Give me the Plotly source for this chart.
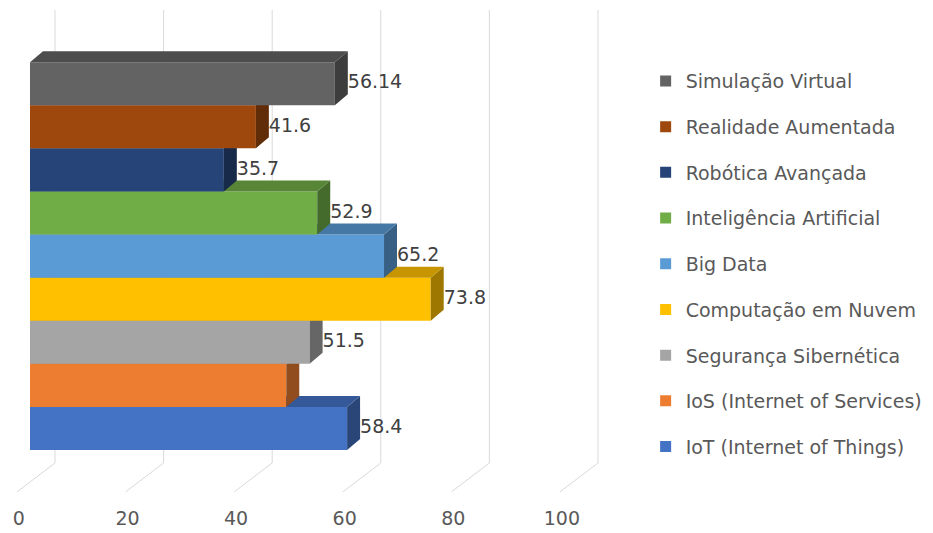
import plotly.graph_objects as go

# ---- data (bottom to top as drawn) ----
categories = [
    "IoT (Internet of Things)",
    "IoS (Internet of Services)",
    "Segurança Sibernética",
    "Computação em Nuvem",
    "Big Data",
    "Inteligência Artificial",
    "Robótica Avançada",
    "Realidade Aumentada",
    "Simulação Virtual",
]
values = [58.4, 47.2, 51.5, 73.8, 65.2, 52.9, 35.7, 41.6, 56.14]
label_texts = ["58.4", "", "51.5", "73.8", "65.2", "52.9", "35.7", "41.6", "56.14"]
colors = ["#4472C4", "#ED7D31", "#A5A5A5", "#FFC000", "#5B9BD5",
          "#70AD47", "#264478", "#9E480E", "#636363"]
tick_values = [0, 20, 40, 60, 80, 100]
tick_labels = ["0", "20", "40", "60", "80", "100"]

# ---- 3D-look geometry (in axis units) ----
DX = 2.39      # depth offset along value axis
DY = 0.255     # depth offset along category axis
FLOOR_BACK_X = 4.6
FLOOR_FRONT_X = -2.39
WALL_TOP = 9.71
FLOOR_BACK_Y = -0.80
FLOOR_FRONT_Y = -1.47
TICK_SHIFT = 2.05


def shade(hex_color, f):
    h = hex_color.lstrip("#")
    r, g, b = (int(h[i:i + 2], 16) for i in (0, 2, 4))
    return "#%02x%02x%02x" % (int(r * f), int(g * f), int(b * f))


fig = go.Figure()

# gridlines (back wall + floor)
for t in tick_values:
    fig.add_trace(go.Scatter(
        x=[FLOOR_BACK_X + t, FLOOR_BACK_X + t, FLOOR_FRONT_X + t],
        y=[WALL_TOP, FLOOR_BACK_Y, FLOOR_FRONT_Y],
        mode="lines", line=dict(color="#d9d9d9", width=1),
        hoverinfo="skip", showlegend=False))

# bars, drawn bottom to top so upper bars cover lower ones
for i, (v, c) in enumerate(zip(values, colors)):
    y0, y1 = i - 0.5, i + 0.5
    # front face
    fig.add_trace(go.Scatter(
        x=[0, v, v, 0, 0], y=[y0, y0, y1, y1, y0],
        fill="toself", fillcolor=c, mode="lines", line=dict(width=0, color=c),
        hoverinfo="skip", showlegend=False))
    # side face
    fig.add_trace(go.Scatter(
        x=[v, v + DX, v + DX, v, v], y=[y0, y0 + DY, y1 + DY, y1, y0],
        fill="toself", fillcolor=shade(c, 0.62), mode="lines",
        line=dict(width=0, color=shade(c, 0.62)),
        hoverinfo="skip", showlegend=False))
    # top face
    fig.add_trace(go.Scatter(
        x=[0, DX, v + DX, v, 0], y=[y1, y1 + DY, y1 + DY, y1, y1],
        fill="toself", fillcolor=shade(c, 0.78), mode="lines",
        line=dict(width=0, color=shade(c, 0.78)),
        hoverinfo="skip", showlegend=False))

# data labels
fig.add_trace(go.Scatter(
    x=[v + DX for v in values], y=list(range(len(values))),
    text=label_texts, mode="text", textposition="middle right",
    textfont=dict(family="DejaVu Sans", size=19, color="#404040"),
    hoverinfo="skip", showlegend=False))

# tick axis carrier
fig.add_trace(go.Scatter(
    x=tick_values, y=[None] * len(tick_values), xaxis="x2",
    mode="markers", hoverinfo="skip", showlegend=False))

# legend entries (top to bottom)
for name, c in reversed(list(zip(categories, colors))):
    fig.add_trace(go.Scatter(
        x=[None], y=[None], mode="markers", name=name, legendgroup=name,
        marker=dict(symbol="square", size=11, color=c)))

x_lo, x_hi = -5.525, 166.3
fig.update_layout(
    width=933, height=533,
    margin=dict(l=0, r=0, t=0, b=28),
    paper_bgcolor="white", plot_bgcolor="white",
    xaxis=dict(range=[x_lo, x_hi], visible=False, fixedrange=True),
    xaxis2=dict(range=[x_lo + TICK_SHIFT, x_hi + TICK_SHIFT], overlaying="x",
                side="bottom", tickvals=tick_values, ticktext=tick_labels,
                showgrid=False, zeroline=False, showline=False, ticks="",
                tickfont=dict(family="DejaVu Sans", size=19, color="#595959")),
    yaxis=dict(range=[-1.775, 9.942], visible=False, fixedrange=True),
    legend=dict(x=0.692, xanchor="left", y=0.877, yanchor="top",
                traceorder="grouped", tracegroupgap=18,
                font=dict(family="DejaVu Sans", size=19, color="#595959"),
                itemwidth=30),
    showlegend=True,
)

fig.write_html("out.html")
